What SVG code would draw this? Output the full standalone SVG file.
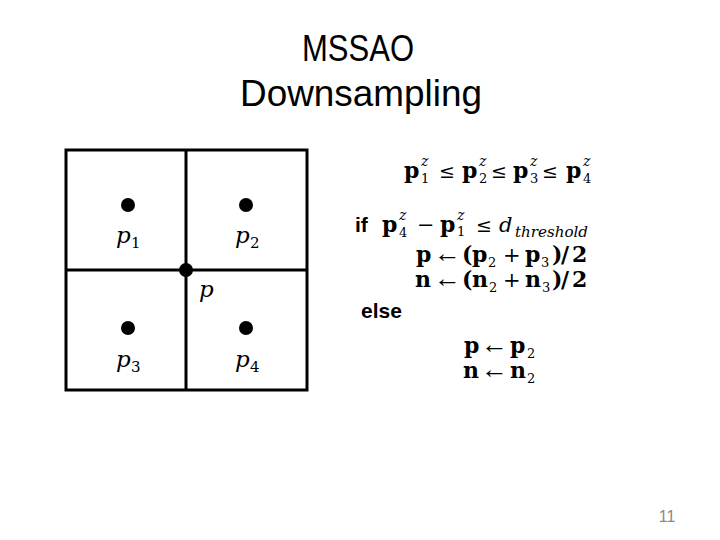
<svg xmlns="http://www.w3.org/2000/svg" width="720" height="540" viewBox="0 0 720 540">
<style>
.title{font-family:"Liberation Sans","DejaVu Sans",sans-serif;font-size:37px;fill:#000}
.m{font-family:"DejaVu Serif",serif;font-size:22px;font-weight:bold;fill:#000}
.op{font-family:"DejaVu Serif",serif;font-size:21px;fill:#000}
.le{font-family:"DejaVu Serif",serif;font-size:19px;fill:#000}
.ar{font-family:"Liberation Serif","DejaVu Sans",serif;font-size:26px;fill:#000}
.s{font-family:"DejaVu Serif",serif;font-size:13px;fill:#000}
.z{font-family:"DejaVu Serif",serif;font-size:14px;font-style:italic;fill:#000}
.it{font-family:"DejaVu Serif",serif;font-size:23px;font-style:italic;fill:#000}
.its{font-family:"DejaVu Serif",serif;font-size:15px;fill:#000}
.kw{font-family:"Liberation Sans","DejaVu Sans",sans-serif;font-size:21px;font-weight:bold;fill:#000}
.num{font-family:"Liberation Sans","DejaVu Sans",sans-serif;font-size:16px;fill:#898989}
.ln{stroke:#000;stroke-width:3;fill:none}
</style>
<g id="title">
<text class="title" x="358" y="61" text-anchor="middle" textLength="112" lengthAdjust="spacingAndGlyphs">MSSAO</text>
<text class="title" x="361" y="106" text-anchor="middle" textLength="242" lengthAdjust="spacingAndGlyphs">Downsampling</text>
</g>
<g id="grid">
<rect class="ln" x="66" y="150" width="241" height="240"/>
<line class="ln" x1="186" y1="150" x2="186" y2="390"/>
<line class="ln" x1="66" y1="270" x2="307" y2="270"/>
</g>
<g id="node-p1">
<circle cx="128" cy="205" r="7"/>
<text class="it" x="116" y="243">p</text><text class="its" x="131" y="248">1</text>
</g>
<g id="node-p2">
<circle cx="246" cy="205" r="7"/>
<text class="it" x="235" y="243">p</text><text class="its" x="250" y="248">2</text>
</g>
<g id="node-p3">
<circle cx="128" cy="328" r="7"/>
<text class="it" x="116" y="367">p</text><text class="its" x="131" y="372">3</text>
</g>
<g id="node-p4">
<circle cx="246" cy="328" r="7"/>
<text class="it" x="235" y="367">p</text><text class="its" x="250" y="372">4</text>
</g>
<g id="node-p">
<circle cx="186" cy="270" r="7"/>
<text class="it" x="199" y="297">p</text>
</g>
<g id="formula">
<!-- line 1 -->
<text class="m" x="404" y="178">p</text><text class="s" x="421" y="183">1</text><text class="z" x="421" y="166">z</text>
<text class="le" x="439" y="178">≤</text>
<text class="m" x="462" y="178">p</text><text class="s" x="479" y="183">2</text><text class="z" x="479" y="166">z</text>
<text class="le" x="491" y="178">≤</text>
<text class="m" x="513" y="178">p</text><text class="s" x="530" y="183">3</text><text class="z" x="530" y="166">z</text>
<text class="le" x="542" y="178">≤</text>
<text class="m" x="566" y="178">p</text><text class="s" x="583" y="183">4</text><text class="z" x="583" y="166">z</text>
<!-- line 2 -->
<text class="kw" x="355" y="232">if</text>
<text class="m" x="382" y="232">p</text><text class="s" x="399" y="237">4</text><text class="z" x="399" y="220">z</text>
<text class="op" x="417" y="232">−</text>
<text class="m" x="440" y="232">p</text><text class="s" x="457" y="236">1</text><text class="z" x="457" y="220">z</text>
<text class="le" x="476" y="232">≤</text>
<text class="op" x="499" y="232" font-style="italic">d</text>
<text class="z" x="515" y="237" textLength="73" lengthAdjust="spacingAndGlyphs">threshold</text>
<!-- line 3 -->
<text class="m" x="416" y="262">p</text>
<text class="ar" x="434" y="262" textLength="27" lengthAdjust="spacingAndGlyphs">←</text>
<text class="m" x="462" y="262">(</text>
<text class="m" x="472" y="262">p</text><text class="s" x="488" y="267">2</text>
<text class="op" x="503" y="262">+</text>
<text class="m" x="525" y="262">p</text><text class="s" x="541" y="267">3</text>
<text class="m" x="552" y="262">)</text>
<text class="m" x="561" y="262">/</text>
<text class="m" x="572" y="262">2</text>
<!-- line 4 -->
<text class="m" x="415" y="287">n</text>
<text class="ar" x="434" y="287" textLength="27" lengthAdjust="spacingAndGlyphs">←</text>
<text class="m" x="462" y="287">(</text>
<text class="m" x="472" y="287">n</text><text class="s" x="489" y="292">2</text>
<text class="op" x="503" y="287">+</text>
<text class="m" x="525" y="287">n</text><text class="s" x="542" y="292">3</text>
<text class="m" x="552" y="287">)</text>
<text class="m" x="561" y="287">/</text>
<text class="m" x="572" y="287">2</text>
<!-- else -->
<text class="kw" x="361" y="318">else</text>
<text class="m" x="464" y="353">p</text>
<text class="ar" x="481" y="353" textLength="27" lengthAdjust="spacingAndGlyphs">←</text>
<text class="m" x="510" y="353">p</text><text class="s" x="527" y="358">2</text>
<text class="m" x="463" y="378">n</text>
<text class="ar" x="481" y="378" textLength="27" lengthAdjust="spacingAndGlyphs">←</text>
<text class="m" x="510" y="378">n</text><text class="s" x="527" y="383">2</text>
</g>
<g id="page-number">
<text class="num" x="667" y="522" text-anchor="middle">11</text>
</g>
</svg>
